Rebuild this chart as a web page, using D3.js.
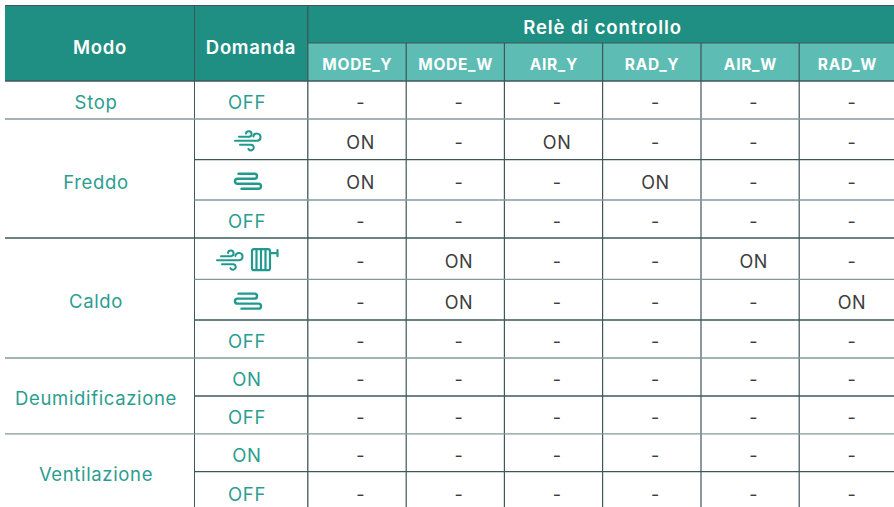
<!DOCTYPE html>
<html>
<head>
<meta charset="utf-8">
<script src="https://cdn.jsdelivr.net/npm/d3@7"></script>
<style>
html, body { margin: 0; padding: 0; background: #fff; }
svg { display: block; }
text { font-family: Inter, "Open Sans", sans-serif; text-anchor: middle; }
</style>
</head>
<body>
<div id="chart"></div>
<script>
var title = "Relè di controllo";
var headModo = "Modo";
var headDomanda = "Domanda";
var relays = ["MODE_Y", "MODE_W", "AIR_Y", "RAD_Y", "AIR_W", "RAD_W"];
var modes = ["Stop", "Freddo", "Caldo", "Deumidificazione", "Ventilazione"];
var modeRows = [1, 3, 3, 2, 2];
var demands = ["OFF", "#air", "#rad", "OFF", "#air+radiator", "#rad", "OFF", "ON", "OFF", "ON", "OFF"];
// which relay is ON on each row, -1 = none
var onRelay = [-1, [0, 2], [0, 3], -1, [1, 4], [1, 5], -1, -1, -1, -1, -1];

var width = 894, height = 507;
var teal = "#1f8f83", tealLight = "#5dbcb3", tealText = "#2b9d90", dark = "#3f5759", grey = "#84989a", ink = "#3d3d3d";

var colEdges = [5, 194.5, 307.8, 406.2, 504.4, 602.6, 701, 799.2, 894];
var rowEdges = [81, 119, 159.6, 200, 238, 279.3, 320, 358, 396, 433.8, 471.6, 512];
var rowIndex = d3.range(demands.length);

var y0 = d3.scaleOrdinal().domain(rowIndex).range(rowEdges.slice(0, -1));
var y1 = d3.scaleOrdinal().domain(rowIndex).range(rowEdges.slice(1));
var relayX0 = d3.scaleOrdinal().domain(relays).range(colEdges.slice(2, 8));
var relayX1 = d3.scaleOrdinal().domain(relays).range(colEdges.slice(3, 9));
var yMid = function (i) { return (y0(i) + y1(i)) / 2 + 3; };
var relayMid = function (r) { return (relayX0(r) + relayX1(r)) / 2; };
// the last column runs off the picture, its text sits further right
var cellX = function (r) { return r == "RAD_W" ? 852 : relayMid(r) + 3.6; };
var headX = function (r) { return r == "RAD_W" ? 847.5 : relayMid(r) + 0.3; };

var svg = d3.select("#chart").append("svg")
    .attr("width", width)
    .attr("height", height)
    .attr("viewBox", "0 0 " + width + " " + height);

//header blocks
svg.append("rect").attr("x", colEdges[0]).attr("y", 5).attr("width", width - colEdges[0]).attr("height", 76).attr("fill", teal);
svg.append("g").selectAll("rect").data(relays).join("rect")
    .attr("x", function (d) { return relayX0(d); })
    .attr("y", 43)
    .attr("width", function (d) { return relayX1(d) - relayX0(d); })
    .attr("height", 38)
    .attr("fill", tealLight);

//grid
var grid = svg.append("g").attr("fill", "none");
var addLine = function (x1, y1_, x2, y2, color, w) {
    grid.append("line").attr("x1", x1).attr("y1", y1_).attr("x2", x2).attr("y2", y2)
        .attr("stroke", color).attr("stroke-width", w);
};
addLine(colEdges[0], 5.5, width, 5.5, dark, 1);
addLine(colEdges[2], 43, width, 43, dark, 1.2);
addLine(colEdges[0], 81, width, 81, dark, 1.4);

//vertical lines
addLine(colEdges[1], 5, colEdges[1], height, dark, 1);
addLine(colEdges[2], 5, colEdges[2], height, dark, 1.3);
colEdges.slice(3, 8).forEach(function (x) {
    addLine(x, 43, x, height, dark, 1.2);
});

//row lines, mode borders span whole width, the others start at Domanda
var borders = {};
d3.cumsum(modeRows).forEach(function (n) { borders[n] = true; });
rowIndex.slice(1).forEach(function (i) {
    var y = y0(i);
    addLine(borders[i] ? colEdges[0] : colEdges[1], y, width, y, i % 2 ? grey : dark, 1.3);
});

//header text
var head = svg.append("g").attr("fill", "#fff").attr("font-weight", 600);
head.append("text").attr("x", 100).attr("y", 53.5).attr("font-size", 18.5).style("letter-spacing", "0.7px").text(headModo);
head.append("text").attr("x", 251).attr("y", 53.5).attr("font-size", 18.5).style("letter-spacing", "0.7px").text(headDomanda);
head.append("text").attr("x", 602.5).attr("y", 34).attr("font-size", 18.5).style("letter-spacing", "0.9px").text(title);
head.selectAll(".relay").data(relays).join("text")
    .attr("class", "relay")
    .attr("x", headX)
    .attr("y", 70)
    .attr("font-size", 15.5)
    .attr("font-weight", 700)
    .style("letter-spacing", "0.7px")
    .text(function (d) { return d; });

//mode column
var start = d3.cumsum([0].concat(modeRows));
var modeShift = [9, 10, 10, 9, 8];
svg.append("g").selectAll("text").data(modes).join("text")
    .attr("x", 96)
    .attr("y", function (d, i) {
        return (y0(start[i]) + y1(start[i + 1] - 1)) / 2 + modeShift[i];
    })
    .attr("font-size", 18.5)
    .attr("fill", tealText)
    .style("letter-spacing", "0.65px")
    .text(function (d) { return d; });

//icons
var airPath = "M-9,-3.5H1a2.8,2.8 0 1 0 -3,-3.2M-13,0.5H9a3.6,3.6 0 1 0 -3.6,-4.2M-8,4.5H3a2.8,2.8 0 1 1 -2.6,4";
var radPath = "M-9,-7.5H7a2.5,2.5 0 0 1 0,5H-10a2.5,2.5 0 0 0 0,5H11a2.5,2.5 0 0 1 0,5H-6";
var radiatorPath = "M-7,-10.5H7a2,2 0 0 1 2,2V8.5a2,2 0 0 1 -2,2H-7a2,2 0 0 1 -2,-2V-8.5a2,2 0 0 1 2,-2Z"
    + "M-4.5,-10.5V10.5M0,-10.5V10.5M4.5,-10.5V10.5M9,-6.5H15.5M16.5,-9.5V-3.5";

var iconColor = "#21998d";
var drawIcon = function (g, path, x, y, w) {
    g.append("path").attr("d", path).attr("transform", "translate(" + x + "," + y + ")")
        .attr("fill", "none").attr("stroke", iconColor).attr("stroke-width", w).attr("stroke-linecap", "round");
};

//demand column
var demandG = svg.append("g");
demands.forEach(function (d, i) {
    if (d == "#air") {
        drawIcon(demandG, airPath, 248, yMid(i) - 2, 2);
    } else if (d == "#rad") {
        drawIcon(demandG, radPath, 247.5, yMid(i) - 1.5, 2.4);
    } else if (d == "#air+radiator") {
        drawIcon(demandG, airPath, 230, yMid(i) - 2, 2);
        drawIcon(demandG, radiatorPath, 261, yMid(i) - 2, 2.2);
    } else {
        demandG.append("text")
            .attr("x", 247)
            .attr("y", yMid(i) + 6.3)
            .attr("font-size", 18.5)
            .attr("fill", tealText)
            .style("letter-spacing", "0.65px")
            .text(d);
    }
});

//relay cells
var cells = [];
rowIndex.forEach(function (i) {
    relays.forEach(function (r, j) {
        var isOn = onRelay[i] != -1 && onRelay[i].indexOf(j) >= 0;
        cells.push({ row: i, relay: r, on: isOn });
    });
});
svg.append("g").selectAll("text").data(cells).join("text")
    .attr("x", function (d) { return cellX(d.relay); })
    .attr("y", function (d) { return yMid(d.row) + 6.3; })
    .attr("font-size", 18)
    .attr("fill", ink)
    .style("letter-spacing", "0.6px")
    .text(function (d) { return d.on ? "ON" : "-"; });
</script>
</body>
</html>
